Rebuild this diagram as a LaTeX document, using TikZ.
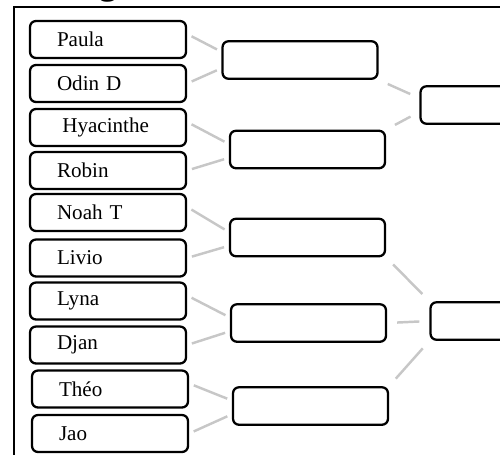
\documentclass[tikz,border=0pt]{standalone}
\usepackage{fontspec}
\setmainfont{Liberation Serif}

\begin{document}
\begin{tikzpicture}[
  x=0.02cm, y=-0.02cm,
  leafbox/.style={rectangle, draw, rounded corners=0.12cm, line width=1.3pt,
    minimum width=3.12cm, minimum height=0.74cm, inner xsep=0.54cm,
    text width=2.04cm, align=left, font=\fontsize{12}{14}\selectfont},
  matchbox/.style={rectangle, draw, rounded corners=0.12cm, line width=1.3pt,
    minimum width=3.1cm, minimum height=0.75cm},
  link/.style={line width=1.4pt, black!22, shorten <=#1, shorten >=#1},
  link/.default=0.1cm
]
\useasboundingbox (0,0) rectangle (500,454);

% Title (cut off) and frame
\node[font=\bfseries\fontsize{20}{24}\selectfont, anchor=base, inner sep=0pt] (title) at (108,-5.5) {g};
\draw[line width=1.1pt] (14,7) rectangle (540,490);

% Column 1: players
\node[leafbox] (paula) at (108, 39.5) {Paula};
\node[leafbox] (odin) at (108, 83.5) {Odin D};
\node[leafbox] (hyac) at (108, 127.5) {\hspace{3pt}Hyacinthe};
\node[leafbox] (robin) at (108, 170.5) {Robin};
\node[leafbox] (noah) at (108, 212.5) {Noah T};
\node[leafbox] (livio) at (108, 258) {Livio};
\node[leafbox] (lyna) at (108, 301) {Lyna};
\node[leafbox] (djan) at (108, 345) {Djan};
\node[leafbox] (theo) at (110, 389) {Théo};
\node[leafbox] (jao) at (110, 433.5) {Jao};

% Column 2: first round
\node[matchbox] (q1) at (300, 60) {};
\node[matchbox] (q2) at (307.5, 149.5) {};
\node[matchbox] (q3) at (307.5, 237.5) {};
\node[matchbox] (q4) at (308.5, 323) {};
\node[matchbox] (q5) at (310.5, 406) {};

% Column 3: second round
\node[matchbox] (s1) at (498, 105) {};
\node[matchbox] (s2) at (508, 321) {};

% Links: players -> first round
\draw[link] (paula.4) -- (q1.174);
\draw[link] (odin.east) -- (q1.186);
\draw[link] (hyac.4) -- (q2.176);
\draw[link] (robin.east) -- (q2.186);
\draw[link] (noah.4) -- (q3.176);
\draw[link] (livio.east) -- (q3.186);
\draw[link] (lyna.4) -- (q4.176);
\draw[link] (djan.east) -- (q4.186);
\draw[link] (theo.4) -- (q5.176);
\draw[link] (jao.east) -- (q5.186);

% Links: first round -> second round
\draw[link=0.2cm] (q1.south east) -- (s1.175);
\draw[link=0.2cm] (q2.north east) -- (s1.185);
\draw[link=0.2cm] (q3.south east) -- (s2.north west);
\draw[link=0.2cm] (q4.east) -- (s2.west);
\draw[link=0.2cm] (q5.north east) -- (s2.south west);

\end{tikzpicture}
\end{document}
